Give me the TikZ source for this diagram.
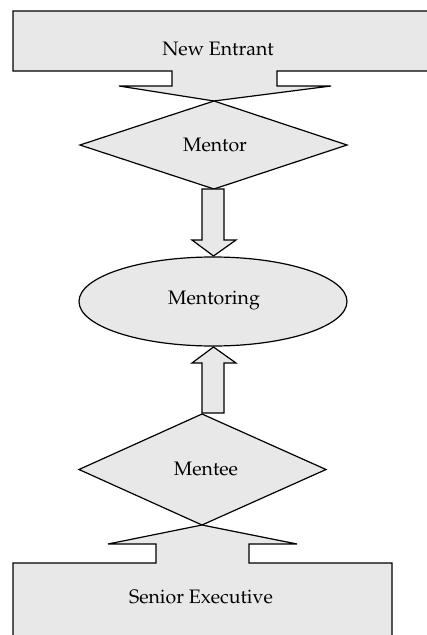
\documentclass[tikz,border=0pt]{standalone}
\usepackage[T1]{fontenc}
\usepackage{mathpazo}
\definecolor{boxgray}{HTML}{E8E8E8}
\tikzset{
  shapefill/.style={fill=boxgray, draw=black, line width=1.2pt, line join=miter},
  lbl/.style={font=\fontsize{19.5}{23}\selectfont, inner sep=0pt, anchor=center}
}
\begin{document}
\begin{tikzpicture}[x=1pt,y=-1pt]
\useasboundingbox (0,0) rectangle (427,635);
\clip (0,0) rectangle (427,635);
% top callout
\draw[shapefill] (13,11) -- (440,11) -- (440,71) -- (277,71) -- (277,86) -- (331,86)
  -- (214,101) -- (119,86) -- (172,86) -- (172,71) -- (13,71) -- cycle;
% Mentor diamond
\draw[shapefill] (214,101) -- (347,145) -- (214,189) -- (80,145) -- cycle;
% down block arrow
\draw[shapefill] (202,189) -- (224,189) -- (224,240) -- (236,240) -- (213.5,256)
  -- (192,240) -- (202,240) -- cycle;
% Mentoring ellipse
\draw[shapefill] (213,301.5) ellipse [x radius=134, y radius=44.5];
% up block arrow
\draw[shapefill] (202,413) -- (224,413) -- (224,363) -- (236,363) -- (213.5,347)
  -- (192,363) -- (202,363) -- cycle;
% Mentee diamond
\draw[shapefill] (202,414) -- (326,469.5) -- (202,525) -- (79,469.5) -- cycle;
% bottom callout
\draw[shapefill] (13,563) -- (156,563) -- (156,544) -- (108,544) -- (202,525)
  -- (297,544) -- (249,544) -- (249,563) -- (392,563) -- (392,645) -- (13,645) -- cycle;
% labels
\node[lbl] (entrant) at (218,49) {New Entrant};
\node[lbl] (mentor) at (215,145) {Mentor};
\node[lbl] (mentoring) at (214,300) {Mentoring};
\node[lbl] (mentee) at (206,469) {Mentee};
\node[lbl] (senior) at (201,597) {Senior Executive};
\end{tikzpicture}
\end{document}
